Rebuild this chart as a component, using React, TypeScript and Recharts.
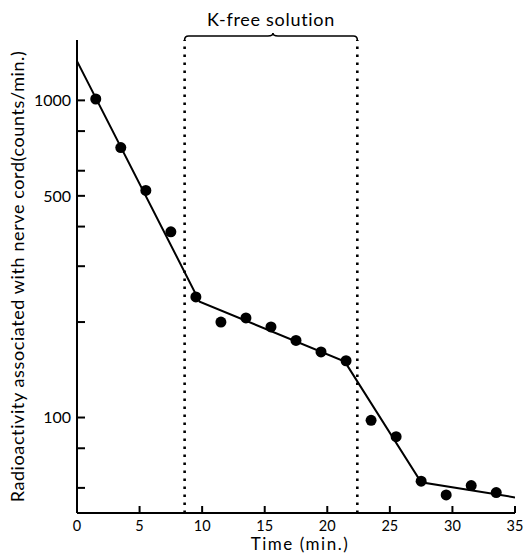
import { ComposedChart, Line, Scatter, XAxis, YAxis, ReferenceLine, ReferenceArea, Label } from "recharts";

// measured points (time in min, counts/min)
const times = [1.5, 3.5, 5.5, 7.5, 9.5, 11.5, 13.5, 15.5, 17.5, 19.5, 21.5, 23.5, 25.5, 27.5, 29.5, 31.5, 33.5];
const counts = [1010, 710, 520, 385, 240, 200, 206, 193, 175, 161, 151, 98, 87, 63, 57, 61, 58];

// hand-fitted line through the points
const fitTimes = [0, 9.8, 21.4, 27.5, 35];
const fitCounts = [1330, 232, 150, 62.5, 56];

// period in K-free solution
const kFreeStart = 8.6;
const kFreeEnd = 22.4;

const xTicks = [0, 5, 10, 15, 20, 25, 30, 35];
const yTicks = [60, 70, 80, 90, 100, 200, 300, 400, 500, 600, 700, 800, 900, 1000];
const yLabelled = [100, 500, 1000];

const points = times.map((t, i) => ({ t, v: counts[i] }));
const fit = fitTimes.map((t, i) => ({ t, v: fitCounts[i] }));

const font = "Lato, 'Open Sans', sans-serif";

const YTick = (props: any) => {
  const { x, y, payload } = props;
  const ax = x + 6;
  return (
    <g>
      <line x1={ax} x2={ax + 8} y1={y} y2={y} stroke="#000" strokeWidth={2} />
      {yLabelled.includes(payload.value) && (
        <text x={x} y={y} dy="0.36em" textAnchor="end" fontSize={16} fontFamily={font} fill="#000">
          {payload.value}
        </text>
      )}
    </g>
  );
};

const XTick = (props: any) => {
  const { x, y, payload } = props;
  const ay = y - 8;
  return (
    <g>
      {payload.value !== 0 && <line x1={x} x2={x} y1={ay} y2={ay - 7} stroke="#000" strokeWidth={2} />}
      <text x={x} y={ay + 18} textAnchor="middle" fontSize={14.5} fontFamily={font} fill="#000">
        {payload.value}
      </text>
    </g>
  );
};

const Brace = (props: any) => {
  const vb = props.viewBox || { x: 185, y: 40, width: 174 };
  const x1 = vb.x;
  const x2 = vb.x + vb.width;
  const mid = (x1 + x2) / 2 + 2;
  const top = vb.y;
  const by = top - 4;
  const d = `M${x1},${top} Q${x1},${by} ${x1 + 4},${by} L${mid - 5},${by} Q${mid},${by} ${mid},${by - 3} Q${mid},${by} ${mid + 5},${by} L${x2 - 4},${by} Q${x2},${by} ${x2},${top}`;
  return (
    <g>
      <path d={d} fill="none" stroke="#000" strokeWidth={1.6} />
      <text
        x={(x1 + x2) / 2}
        y={top - 14}
        textAnchor="middle"
        fontSize={18}
        letterSpacing={0.7}
        fontFamily={font}
        fill="#000"
      >
        K-free solution
      </text>
    </g>
  );
};

const YLabel = (props: any) => {
  const vb = props.viewBox || { x: 0, y: 40, width: 77, height: 473 };
  const cx = vb.x + 24;
  const cy = vb.y + vb.height / 2;
  return (
    <text
      x={cx}
      y={cy}
      transform={`rotate(-90 ${cx} ${cy})`}
      textAnchor="middle"
      fontSize={18}
      letterSpacing={0.6}
      fontFamily={font}
      fill="#000"
    >
      Radioactivity associated with nerve cord(counts/min.)
    </text>
  );
};

const XLabel = (props: any) => {
  const vb = props.viewBox || { x: 77, y: 513, width: 438, height: 43 };
  return (
    <text
      x={vb.x + vb.width / 2 + 4}
      y={vb.y + 37}
      textAnchor="middle"
      fontSize={17}
      letterSpacing={1.5}
      fontFamily={font}
      fill="#000"
    >
      Time (min.)
    </text>
  );
};

export default function App() {
  return (
    <div style={{ position: "absolute", left: 0, top: 0, background: "#fff" }}>
      <ComposedChart width={528} height={556} margin={{ top: 40, right: 13, bottom: 0, left: 0 }}>
        <XAxis
          type="number"
          dataKey="t"
          domain={[0, 35]}
          ticks={xTicks}
          tickLine={false}
          tickSize={0}
          tickMargin={8}
          tick={<XTick />}
          height={43}
          axisLine={{ stroke: "#000", strokeWidth: 2 }}
          allowDataOverflow
        >
          <Label content={<XLabel />} />
        </XAxis>
        <YAxis
          type="number"
          dataKey="v"
          scale="log"
          domain={[50, 1550]}
          ticks={yTicks}
          tickLine={false}
          tickSize={0}
          tickMargin={6}
          tick={<YTick />}
          width={77}
          axisLine={{ stroke: "#000", strokeWidth: 2 }}
          allowDataOverflow
        >
          <Label content={<YLabel />} />
        </YAxis>
        <ReferenceArea
          x1={kFreeStart}
          x2={kFreeEnd}
          fill="none"
          stroke="none"
          ifOverflow="visible"
          label={<Brace />}
        />
        <ReferenceLine x={kFreeStart} stroke="#000" strokeWidth={2.6} strokeDasharray="2.5 5.5" />
        <ReferenceLine x={kFreeEnd} stroke="#000" strokeWidth={2.6} strokeDasharray="2.5 5.5" />
        <Line
          data={fit}
          dataKey="v"
          type="linear"
          stroke="#000"
          strokeWidth={2}
          dot={false}
          activeDot={false}
          isAnimationActive={false}
        />
        <Scatter
          data={points}
          dataKey="v"
          fill="#000"
          shape={(p: any) => <circle cx={p.cx} cy={p.cy} r={5.5} fill="#000" />}
          isAnimationActive={false}
        />
      </ComposedChart>
    </div>
  );
}
